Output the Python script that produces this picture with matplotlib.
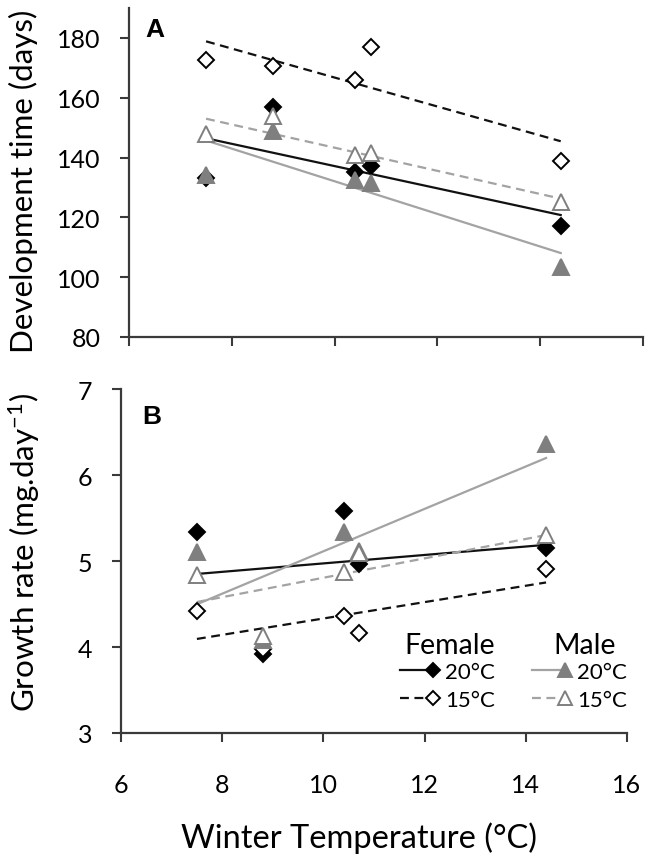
import numpy as np
import matplotlib
matplotlib.use('Agg')
import matplotlib.pyplot as plt
from matplotlib.lines import Line2D
from matplotlib.legend_handler import HandlerLine2D

plt.rcParams['font.family'] = ['Lato', 'DejaVu Sans']
plt.rcParams['mathtext.default'] = 'regular'

# winter temperatures (°C) of the five populations
temp = [7.5, 8.8, 10.4, 10.7, 14.4]

# A: development time (days)
dev_f20 = [133, 157, 135, 137, 117]
dev_f15 = [172.5, 170.5, 166, 177, 139]
dev_m20 = [134, 149, 132.5, 131.5, 103.5]
dev_m15 = [148, 154, 141, 141.5, 125]

# B: growth rate (mg/day)
gr_f20 = [5.34, 3.92, 5.58, 4.96, 5.15]
gr_f15 = [4.42, 3.98, 4.36, 4.16, 4.91]
gr_m20 = [5.11, 4.08, 5.34, 5.12, 6.36]
gr_m15 = [4.84, 4.13, 4.87, 5.09, 5.30]

BLACK = '#111111'
GREY_M = '#7f7f7f'
GREY_L = '#a3a3a3'
AXC = '#3a3a3a'

styles = {
    'f20': dict(marker='D', ms=8.5, mfc='black', mec='black', line=BLACK, ls='-'),
    'f15': dict(marker='D', ms=8.5, mfc='white', mec='black', line=BLACK, ls=(0, (4, 2.5))),
    'm20': dict(marker='^', ms=12, mfc=GREY_M, mec=GREY_M, line=GREY_L, ls='-'),
    'm15': dict(marker='^', ms=12, mfc='white', mec=GREY_M, line=GREY_L, ls=(0, (4, 2.5))),
}


def draw(ax, series):
    x = np.array(temp)
    for key, y in series:
        s = styles[key]
        k, b = np.polyfit(x, y, 1)
        xs = np.array([x.min(), x.max()])
        ax.plot(xs, k * xs + b, color=s['line'], ls=s['ls'], lw=1.6, zorder=2)
    for key, y in series:
        s = styles[key]
        ax.plot(x, y, ls='none', marker=s['marker'], ms=s['ms'], mfc=s['mfc'],
                mec=s['mec'], mew=1.4, zorder=3)


def style_axes(ax):
    for side in ['top', 'right']:
        ax.spines[side].set_visible(False)
    for side in ['left', 'bottom']:
        ax.spines[side].set_color(AXC)
        ax.spines[side].set_linewidth(1.6)
    ax.tick_params(direction='out', length=6.5, width=1.5, color=AXC, labelsize=18)
    ax.tick_params(axis='y', pad=14)
    ax.set_xlim(6, 16)
    ax.set_xticks([6, 8, 10, 12, 14, 16])


class EndMarker(HandlerLine2D):
    def create_artists(self, *args, **kwargs):
        arts = super().create_artists(*args, **kwargs)
        for a in arts:
            if len(a.get_xdata()) == 3:
                a.set_markevery([2])
        return arts


fig = plt.figure(figsize=(6.53, 8.62), dpi=100)
ax1 = fig.add_axes([0.1975, 0.6079, 0.7871, 0.3817])
ax2 = fig.add_axes([0.1853, 0.1485, 0.7749, 0.399])

draw(ax1, [('f20', dev_f20), ('f15', dev_f15), ('m20', dev_m20), ('m15', dev_m15)])
style_axes(ax1)
ax1.set_ylim(80, 190)
ax1.set_yticks([80, 100, 120, 140, 160, 180])
ax1.tick_params(axis='x', labelbottom=False)
ax1.set_ylabel('Development time (days)', fontsize=22.6)
ax1.yaxis.set_label_coords(-0.177, 0.476)
ax1.text(0.031, 0.973, 'A', transform=ax1.transAxes, fontsize=19,
         fontweight='bold', va='top', ha='left', family='Liberation Sans')

draw(ax2, [('f20', gr_f20), ('f15', gr_f15), ('m20', gr_m20), ('m15', gr_m15)])
style_axes(ax2)
ax2.set_ylim(3, 7)
ax2.set_yticks([3, 4, 5, 6, 7])
ax2.tick_params(axis='x', pad=22)
ax2.set_ylabel('Growth rate (mg.day$^{-1}$)', fontsize=22.6)
ax2.yaxis.set_label_coords(-0.156, 0.529)
ax2.set_xlabel('Winter Temperature (°C)', fontsize=23.5)
ax2.xaxis.set_label_coords(0.470, -0.256)
ax2.text(0.0415, 0.956, 'B', transform=ax2.transAxes, fontsize=19,
         fontweight='bold', va='top', ha='left', family='Liberation Sans')


def handle(key):
    s = styles[key]
    return Line2D([], [], color=s['line'], ls=s['ls'], lw=1.6, marker=s['marker'],
                  ms=s['ms'] * 0.85, mfc=s['mfc'], mec=s['mec'], mew=1.4)


legend_kw = dict(frameon=False, loc='upper left', borderpad=0, borderaxespad=0,
                 handlelength=1.5, handletextpad=0.55, labelspacing=0.35,
                 numpoints=1, fontsize=16, handler_map={Line2D: EndMarker()})
ax2.text(0.561, 0.2326, 'Female', transform=ax2.transAxes, fontsize=20.5,
         va='baseline', ha='left')
ax2.text(0.854, 0.2326, 'Male', transform=ax2.transAxes, fontsize=20.5,
         va='baseline', ha='left')
leg_f = ax2.legend([handle('f20'), handle('f15')], ['20°C', '15°C'],
                   bbox_to_anchor=(0.551, 0.206), **legend_kw)
ax2.add_artist(leg_f)
ax2.legend([handle('m20'), handle('m15')], ['20°C', '15°C'],
           bbox_to_anchor=(0.812, 0.206), **legend_kw)

fig.savefig('out.png', dpi=100)
